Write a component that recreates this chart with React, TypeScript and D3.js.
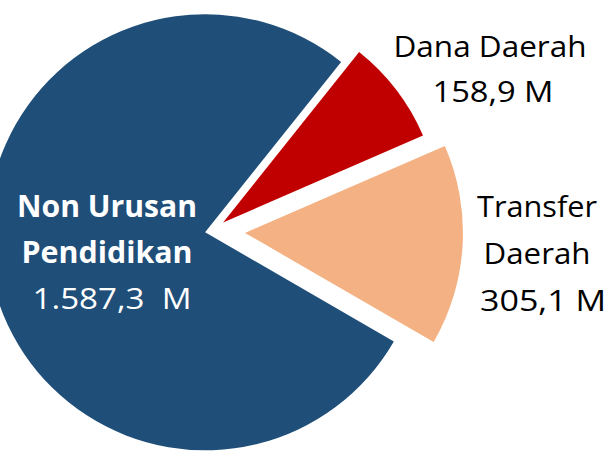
import React from "react";
import * as d3 from "d3";

const categories = ["Dana Daerah", "Transfer Daerah", "Non Urusan Pendidikan"];
const values = [158.9, 305.1, 1587.3];
const labelLines = [["Dana Daerah", "158,9 M"], ["Transfer", "Daerah", "305,1 M"], ["Non Urusan", "Pendidikan", "1.587,3  M"]];
const labelBold = [[false, false], [false, false, false], [true, true, false]];
const colors = ["#C00000", "#F4B183", "#1F4E79"];
const explode = [14, 33, 7];

const W = 604;
const H = 455;
const CX = 212;
const CY = 231;
const R = 218;
const START = (38.6 * Math.PI) / 180;

// label layout: centre x per line, first baseline, line step, text colour, widths
const labelPos = [
  { xs: [490, 493], y: 57, step: 45, color: "#000000", widths: [193, 121] },
  { xs: [537, 537, 543], y: 217, step: 47, color: "#000000", widths: [120, 107, 126] },
  { xs: [107, 107, 112], y: 217, step: 46, color: "#FFFFFF", widths: [180, 171, 159] },
];

export default function App() {
  const pie = d3
    .pie<number>()
    .sort(null)
    .value((d) => d)
    .startAngle(START)
    .endAngle(START + 2 * Math.PI);
  const arcs = pie(values);
  const arc = d3.arc<d3.PieArcDatum<number>>().innerRadius(0).outerRadius(R);

  return (
    <svg
      width={W}
      height={H}
      style={{ position: "absolute", left: 0, top: 0, background: "#fff" }}
      fontFamily="'Open Sans', sans-serif"
    >
      {arcs.map((a, i) => {
        const mid = (a.startAngle + a.endAngle) / 2;
        const dx = explode[i] * Math.sin(mid);
        const dy = -explode[i] * Math.cos(mid);
        return (
          <path
            key={categories[i]}
            d={arc(a) || ""}
            fill={colors[i]}
            transform={`translate(${CX + dx},${CY + dy})`}
          />
        );
      })}
      {labelLines.map((lines, i) =>
        lines.map((t, j) => (
          <text
            key={`${i}-${j}`}
            x={labelPos[i].xs[j]}
            y={labelPos[i].y + j * labelPos[i].step}
            textAnchor="middle"
            fill={labelPos[i].color}
            fontSize={30}
            fontWeight={labelBold[i][j] ? 700 : 400}
            textLength={labelPos[i].widths[j]}
            lengthAdjust="spacingAndGlyphs"
            xmlSpace="preserve"
          >
            {t}
          </text>
        ))
      )}
    </svg>
  );
}
